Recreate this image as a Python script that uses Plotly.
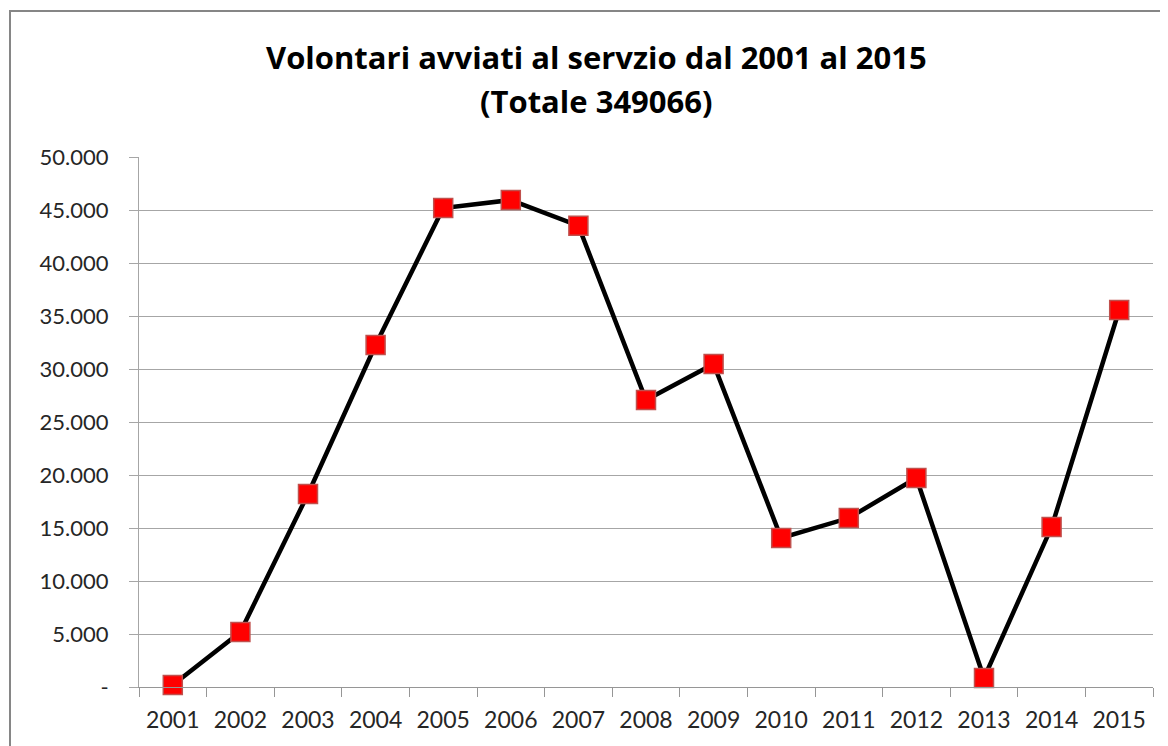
import plotly.graph_objects as go

years = ["2001", "2002", "2003", "2004", "2005", "2006", "2007", "2008",
         "2009", "2010", "2011", "2012", "2013", "2014", "2015"]
volontari = [190, 5190, 18210, 32260, 45190, 45940, 43520, 27080,
             30470, 14060, 15940, 19720, 850, 15090, 35570]
y_tickvals = [0, 5000, 10000, 15000, 20000, 25000, 30000, 35000, 40000, 45000, 50000]
y_ticktext = ["-", "5.000", "10.000", "15.000", "20.000", "25.000", "30.000",
              "35.000", "40.000", "45.000", "50.000"]
title_line1 = "Volontari avviati al servzio dal 2001 al 2015"
title_line2 = "(Totale 349066)"

OFF = 8  # page body margin
W, H = 1168 - OFF, 746 - OFF
L, R, T, B = 139 - OFF, 15, 157 - OFF, 59
pw = W - L - R
ph = H - T - B

fig = go.Figure()
fig.add_trace(go.Scatter(
    x=years, y=volontari, mode="lines+markers",
    line=dict(color="black", width=4.5),
    marker=dict(symbol="square", size=19, color="#ff0000",
                line=dict(color="#c0504d", width=1.5)),
    cliponaxis=False, showlegend=False,
))

title_font = dict(size=31, color="black", family="Open Sans, sans-serif", weight="bold")
fig.add_annotation(text=title_line1, xref="paper", yref="paper",
                   x=(596 - 139) / pw, xanchor="center",
                   y=1 + (157 - 57) / ph, yanchor="middle",
                   showarrow=False, font=title_font)
fig.add_annotation(text=title_line2, xref="paper", yref="paper",
                   x=(596 - 139) / pw, xanchor="center",
                   y=1 + (157 - 101) / ph, yanchor="middle",
                   showarrow=False, font=title_font)

fig.update_layout(
    width=W, height=H,
    margin=dict(l=L, r=R, t=T, b=B),
    paper_bgcolor="white", plot_bgcolor="white",
    font=dict(family="Lato, Open Sans, sans-serif", color="#262626"),
    xaxis=dict(type="category", tickson="boundaries", ticks="outside",
               ticklen=9, tickcolor="#969696", showgrid=False,
               showline=True, linecolor="#969696", linewidth=1,
               ticklabelstandoff=12,
               tickfont=dict(size=23, color="#262626"), range=[-0.5, 14.5]),
    yaxis=dict(range=[0, 50000], tickvals=y_tickvals, ticktext=y_ticktext,
               ticks="outside", ticklen=9, tickcolor="#a6a6a6",
               showgrid=True, gridcolor="#a6a6a6", gridwidth=1,
               showline=True, linecolor="#a6a6a6", linewidth=1,
               ticklabelstandoff=16,
               zeroline=False, tickfont=dict(size=22, color="#262626")),
)

# chart border (extends beyond the visible window at right/bottom)
fig.add_shape(type="rect", xref="paper", yref="paper",
              x0=(10 - 139) / pw, x1=(1175 - 139) / pw,
              y0=-(760 - 687) / ph, y1=1 + (157 - 11) / ph,
              line=dict(color="#868686", width=2), fillcolor="rgba(0,0,0,0)",
              layer="below")

fig.write_html("out.html")
